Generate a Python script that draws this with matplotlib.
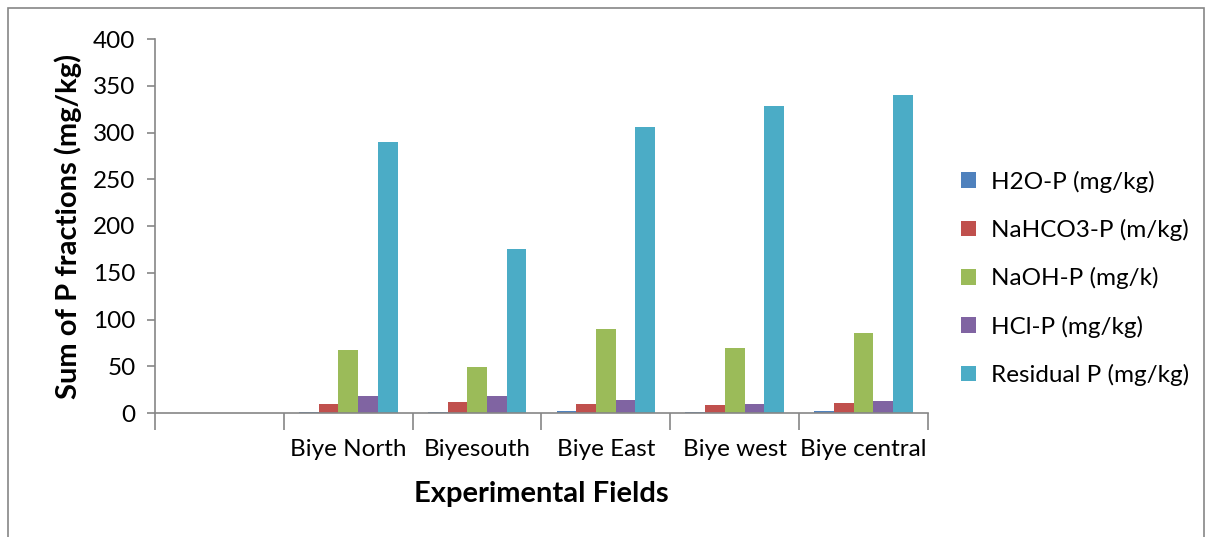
import matplotlib.pyplot as plt
import matplotlib.patches as mpatches
import numpy as np

fields = ["", "Biye North", "Biyesouth", "Biye East", "Biye west", "Biye central"]
series_names = ["H2O-P (mg/kg)", "NaHCO3-P (m/kg)", "NaOH-P (mg/k)",
                "HCl-P (mg/kg)", "Residual P (mg/kg)"]
h2o = [0, 1.5, 1.5, 2.0, 1.0, 2.0]
nahco3 = [0, 9.5, 11.5, 9.5, 8.5, 11.0]
naoh = [0, 67, 49, 90, 70, 86]
hcl = [0, 18, 18, 14, 10, 13]
residual = [0, 290, 175, 306, 328, 340]
colors = ["#4F81BD", "#C0504D", "#9BBB59", "#8064A2", "#4BACC6"]

plt.rcParams["font.family"] = ["Lato", "DejaVu Sans"]

fig = plt.figure(figsize=(12.07, 5.37), dpi=100)
ax = fig.add_axes([155 / 1207, 124 / 537, 773 / 1207, 374 / 537])

# outer chart frame
fig.patches.append(mpatches.Rectangle((8 / 1207, -0.05), 1196 / 1207, 1.05 - 8 / 537,
                                      transform=fig.transFigure, fill=False,
                                      edgecolor="#868686", linewidth=1.2))

x = np.arange(len(fields))
width = 0.153
data = [h2o, nahco3, naoh, hcl, residual]
for i, (vals, name, c) in enumerate(zip(data, series_names, colors)):
    ax.bar(x + (i - 2) * width, vals, width, color=c, label=name)

ax.set_xlim(-0.5, len(fields) - 0.5)
ax.set_ylim(0, 400)
ax.set_yticks(np.arange(0, 401, 50))
ax.set_xticks(x)
ax.set_xticklabels(fields)
ax.set_xticks(np.arange(-0.5, len(fields), 1), minor=True)
ax.tick_params(axis="x", which="major", length=0, labelsize=17.5, pad=18.5)
ax.tick_params(axis="x", which="minor", length=12, width=1.2, color="#868686")
ax.tick_params(axis="y", length=6, width=1.2, color="#868686", labelsize=17.5, pad=8)

for s in ["top", "right"]:
    ax.spines[s].set_visible(False)
for s in ["left", "bottom"]:
    ax.spines[s].set_color("#868686")
    ax.spines[s].set_linewidth(1.2)

ax.set_xlabel("Experimental Fields", fontsize=21, fontweight="bold", labelpad=15)
ax.set_ylabel("Sum of P fractions (mg/kg)", fontsize=21, fontweight="bold", labelpad=8)

ax.legend(loc="center left", bbox_to_anchor=(1.015, 0.36), frameon=False,
          fontsize=17.5, handlelength=0.6, handleheight=0.6, labelspacing=1.08,
          handletextpad=0.6)

fig.savefig("out.png", dpi=100)
